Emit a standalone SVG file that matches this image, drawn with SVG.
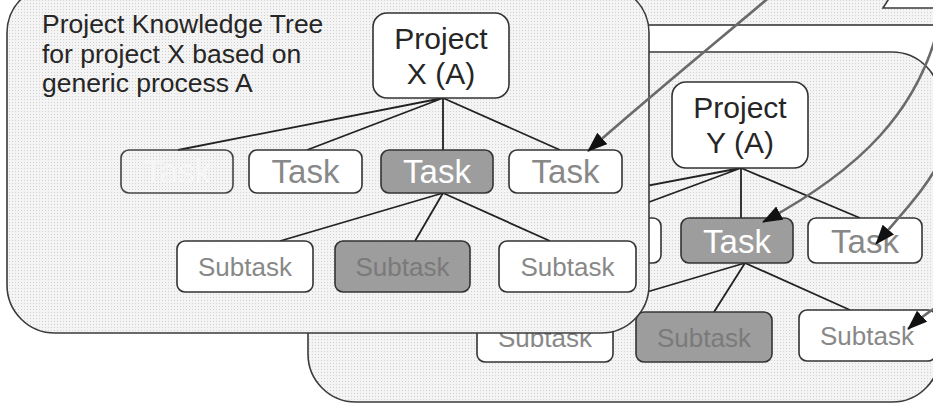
<svg xmlns="http://www.w3.org/2000/svg" width="933" height="412" viewBox="0 0 933 412">
<defs>
<pattern id="dots" width="3" height="3" patternUnits="userSpaceOnUse">
<rect width="3" height="3" fill="#f4f4f4"/>
<rect width="1" height="1" fill="#d2d2d2"/>
</pattern>
<marker id="ah" markerUnits="userSpaceOnUse" markerWidth="20" markerHeight="16" refX="19" refY="7.5" orient="auto">
<path d="M0,0 L20,7.5 L0,15 z" fill="#111"/>
</marker>
<style>
.panel{fill:url(#dots);stroke:#3a3a3a;stroke-width:1.6}
.box{fill:#fff;stroke:#333;stroke-width:1.6}
.open{fill:none;stroke:#444;stroke-width:1.6}
.dark{fill:#9d9d9d;stroke:#333;stroke-width:1.6}
.t{font-family:"Liberation Sans",Arial,sans-serif;text-anchor:middle}
.title{font-family:"Liberation Sans",Arial,sans-serif;font-size:26.5px;fill:#262626}
.proj{font-size:30px;fill:#262626}
.task{font-size:33px;fill:#888}
.sub{font-size:26px;fill:#888}
.w{fill:#fff}
.faint{fill:#f6f6f6}
.subdk{fill:#7a7a7a}
.edge{stroke:#222;stroke-width:1.8;fill:none}
.arrow{stroke:#6a6a6a;stroke-width:2.6;fill:none;marker-end:url(#ah)}
</style>
</defs>
<rect width="933" height="412" fill="#fff"/>

<g id="panel-back">
<rect class="panel" x="480" y="-120" width="520" height="145"/>
<polygon points="883,8 890,-3 940,-3 940,8" fill="#fff" stroke="#3a3a3a" stroke-width="1.6"/>
</g>

<g id="panel-y">
<rect class="panel" x="308" y="52" width="632" height="350" rx="48" ry="48"/>
</g>

<g id="connectors-y">
<path class="edge" d="M741,168 L477,218 M741,168 L606,218 M741,168 L741,218 M741,168 L860,218"/>
<path class="edge" d="M745,263 L579,312 M745,263 L714,312 M745,263 L850,310"/>
</g>

<g id="project-y"><rect class="box" x="672" y="82" width="136" height="86" rx="14"/>
<text class="t proj" x="740" y="118">Project</text><text class="t proj" x="740" y="153">Y (A)</text></g>
<g id="task-y2"><rect class="box" x="548" y="218" width="113" height="45" rx="8"/></g>
<g id="task-y3"><rect class="dark" x="681" y="218" width="112" height="45" rx="8"/>
<text class="t task w" x="737" y="253">Task</text></g>
<g id="task-y4"><rect class="box" x="808" y="218" width="114" height="45" rx="8"/>
<text class="t task" x="865" y="253">Task</text></g>
<g id="subtask-y1"><rect class="box" x="477" y="312" width="136" height="50" rx="8"/>
<text class="t sub" x="545" y="347">Subtask</text></g>
<g id="subtask-y2"><rect class="dark" x="636" y="312" width="136" height="50" rx="8"/>
<text class="t sub subdk" x="704" y="347">Subtask</text></g>
<g id="subtask-y3"><rect class="box" x="799" y="310" width="137" height="51" rx="8"/>
<text class="t sub" x="867" y="345">Subtask</text></g>

<g id="panel-x">
<rect class="panel" x="7" y="-15" width="642" height="348" rx="48" ry="48"/>
<text class="title" x="42" y="33">Project Knowledge Tree</text>
<text class="title" x="42" y="63">for project X based on</text>
<text class="title" x="42" y="92">generic process A</text>
</g>

<g id="connectors-x">
<path class="edge" d="M443,98 L178,150 M443,98 L307,150 M443,98 L443,150 M443,98 L560,150"/>
<path class="edge" d="M443,193 L280,241 M443,193 L415,241 M443,193 L550,241"/>
</g>

<g id="project-x"><rect class="box" x="373" y="13" width="136" height="85" rx="14"/>
<text class="t proj" x="441" y="49">Project</text><text class="t proj" x="441" y="84">X (A)</text></g>
<g id="task-x1"><rect class="open" x="121" y="150" width="112" height="43" rx="8"/>
<text class="t task faint" x="177" y="183">Task</text></g>
<g id="task-x2"><rect class="box" x="249" y="150" width="113" height="43" rx="8"/>
<text class="t task" x="305.5" y="183">Task</text></g>
<g id="task-x3"><rect class="dark" x="381" y="150" width="112" height="43" rx="8"/>
<text class="t task w" x="437" y="183">Task</text></g>
<g id="task-x4"><rect class="box" x="509" y="150" width="113" height="43" rx="8"/>
<text class="t task" x="565.5" y="183">Task</text></g>
<g id="subtask-x1"><rect class="box" x="177" y="241" width="136" height="51" rx="8"/>
<text class="t sub" x="245" y="276">Subtask</text></g>
<g id="subtask-x2"><rect class="dark" x="335" y="241" width="135" height="51" rx="8"/>
<text class="t sub subdk" x="402.5" y="276">Subtask</text></g>
<g id="subtask-x3"><rect class="box" x="499" y="241" width="137" height="51" rx="8"/>
<text class="t sub" x="567.5" y="276">Subtask</text></g>

<g id="arrows">
<path class="arrow" d="M772,-5 C725,35 655,92 588,151"/>
<path class="arrow" d="M940,20 C920,110 860,170 763,222"/>
<path class="arrow" d="M945,150 C930,185 905,210 876,244"/>
<path class="arrow" d="M945,302 C930,310 920,318 908,329"/>
</g>
</svg>
